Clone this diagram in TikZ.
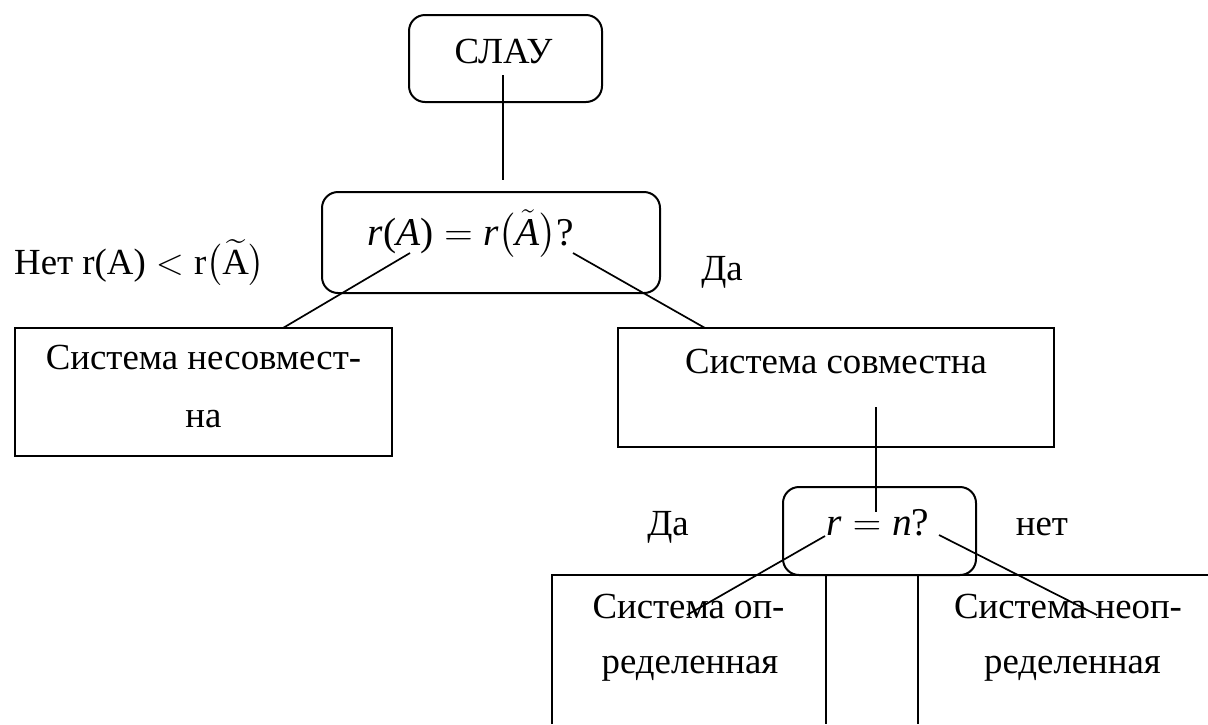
\RequirePackage{fix-cm}
\documentclass[tikz,border=0pt]{standalone}
\usepackage{amsmath}
\usepackage{fontspec}
\setmainfont{Liberation Serif}
\begin{document}
\begin{tikzpicture}[x=0.5pt,y=-0.5pt,
  every node/.style={inner sep=0pt, outer sep=0pt},
  frame/.style={draw, line width=1pt},
  rframe/.style={frame, rounded corners=8pt},
  txt/.style={anchor=base, font=\fontsize{18.4}{27.6}\selectfont},
  formula/.style={txt, scale=1.07},
  link/.style={line width=0.85pt}]
\useasboundingbox (0,0) rectangle (1208,724);

% top block
\node[rframe, minimum width=96.5pt, minimum height=43.5pt] (slau) at (505.5,58.5) {};
\node[txt] (slauT) at (503.5,63) {СЛАУ};

% first condition
\node[rframe, minimum width=169pt, minimum height=50.5pt] (cond1) at (491,242.5) {};
\node[formula] (cond1T) at (471,245)
  {$\mathit{r}\text{(}\mathit{A}\text{)} = \mathit{r}\bigl(\tilde{\mathit{A}}\bigr)\text{?}$};

% branch labels
\node[txt] (noT) at (139.5,274)
  {Нет $\text{r(A)} < \text{r}\bigl(\widetilde{\mathrm{A}}\bigr)$};
\node[txt] (yesT) at (722,280) {Да};

% outcomes of the first condition
\node[frame, minimum width=188.5pt, minimum height=64pt] (incons) at (203.5,392) {};
\node[txt] (inconsT1) at (203.5,369) {Система несовмест-};
\node[txt] (inconsT2) at (203.5,427) {на};

\node[frame, minimum width=218pt, minimum height=59.5pt] (cons) at (836,387.5) {};
\node[txt] (consT) at (836,373) {Система совместна};

% second condition
\node[rframe, minimum width=96.5pt, minimum height=44pt] (cond2) at (879.5,531) {};
\node[formula] (cond2T) at (878,535) {$\mathit{r} = \mathit{n}\text{?}$};
\node[txt] (yes2T) at (668,535) {Да};
\node[txt] (no2T) at (1042,535) {нет};

% bottom table
\coordinate (tl) at (552,575);
\coordinate (tr) at (1208,575);
\coordinate (bl) at (552,724);
\coordinate (m1t) at (826,575);
\coordinate (m1b) at (826,724);
\coordinate (m2t) at (918,575);
\coordinate (m2b) at (918,724);
\draw[line width=1pt] (bl) -- (tl) -- (tr);
\draw[line width=1pt] (m1t) -- (m1b);
\draw[line width=1pt] (m2t) -- (m2b);

\node[txt] (detT1) at (688.5,618) {Система оп-};
\node[txt] (detT2) at (690,673) {ределенная};
\node[txt] (indT1) at (1068,618) {Система неоп-};
\node[txt] (indT2) at (1072.5,673) {ределенная};

% connectors
\coordinate (a1) at (503,75);
\coordinate (a2) at (503,180);
\coordinate (b1) at (410,253);
\coordinate (b2) at (283,328);
\coordinate (c1) at (573,253);
\coordinate (c2) at (705,328);
\coordinate (d1) at (876,407);
\coordinate (d2) at (876,512);
\coordinate (e1) at (825,536);
\coordinate (e2) at (687,615);
\coordinate (f1) at (939,535);
\coordinate (f2) at (1097,615);
\draw[link] (a1) -- (a2);
\draw[link] (b1) -- (b2);
\draw[link] (c1) -- (c2);
\draw[link] (d1) -- (d2);
\draw[link] (e1) -- (e2);
\draw[link] (f1) -- (f2);
\end{tikzpicture}
\end{document}
